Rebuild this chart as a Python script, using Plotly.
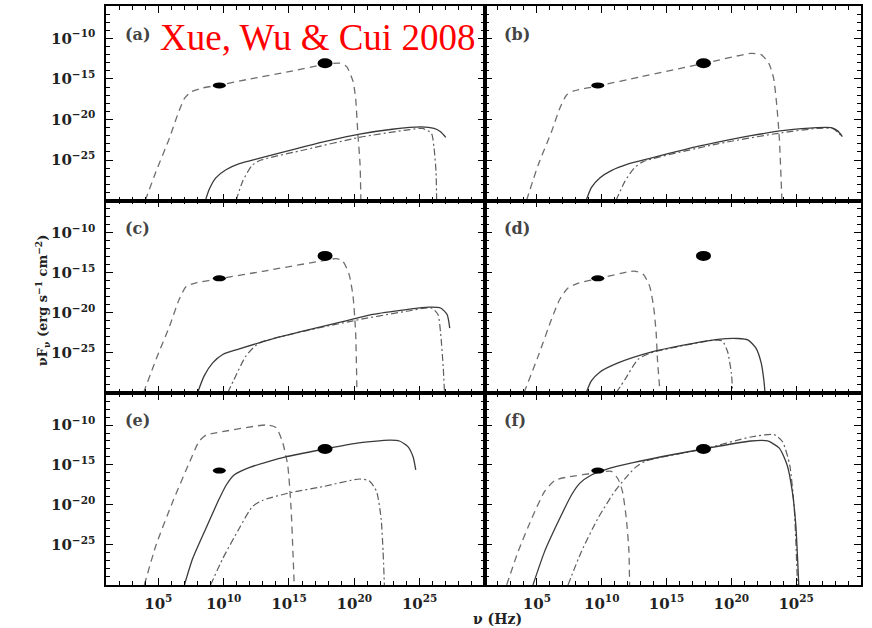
import plotly.graph_objects as go

# ---------------- data (log10 nu [Hz], log10 nuF_nu [erg s^-1 cm^-2]) ----------------
LOGNU_RANGE = [1, 30]
LOGF_RANGE = [-30, -6]
X_TICKS = [5, 10, 15, 20, 25]
X_TICK_LABELS = ["10<sup>5</sup>", "10<sup>10</sup>", "10<sup>15</sup>", "10<sup>20</sup>", "10<sup>25</sup>"]
Y_TICKS = [-10, -15, -20, -25]
Y_TICK_LABELS = ["10<sup>−10</sup>", "10<sup>−15</sup>", "10<sup>−20</sup>", "10<sup>−25</sup>"]
PANEL_LABELS = ["(a)", "(b)", "(c)", "(d)", "(e)", "(f)"]

# panel (a)
A_DASH_X = [4.0, 4.83, 5.85, 6.48, 7.0, 7.5, 8.4, 9.67, 12.0, 15.0, 17.76, 18.86, 19.4, 19.9, 20.1, 20.26, 20.44, 20.5]
A_DASH_Y = [-30, -26.4, -22.3, -19.4, -17.4, -16.6, -16.1, -15.75, -15.0, -14.1, -13.2, -13.05, -13.45, -15.3, -17.4, -21.5, -25.6, -30]
A_SOLID_X = [8.6, 8.9, 9.4, 10.18, 11.2, 12.7, 15.3, 17.8, 20.4, 22.9, 25.1, 26.1, 26.6, 27.0]
A_SOLID_Y = [-30, -28.6, -27.2, -26.2, -25.45, -24.8, -23.7, -22.7, -21.8, -21.2, -20.9, -21.1, -21.5, -22.2]
A_DD_X = [10.95, 11.46, 12.2, 12.86, 16.3, 20.4, 24.0, 25.2, 25.9, 26.1, 26.25, 26.3]
A_DD_Y = [-30, -27.6, -25.6, -25.0, -23.7, -22.2, -21.3, -21.1, -21.7, -23.5, -26.4, -30]
A_PTS_X = [9.67, 17.76]
A_PTS_Y = [-15.8, -13.07]

# panel (b)
B_DASH_X = [4.2, 5.1, 6.13, 6.77, 7.28, 7.8, 9.7, 13.0, 17.85, 21.5, 22.3, 22.9, 23.26, 23.5, 23.7, 23.9]
B_DASH_Y = [-30, -25.6, -21.5, -18.6, -17.0, -16.5, -15.86, -14.74, -13.09, -11.85, -12.0, -13.1, -14.9, -18.2, -22.3, -30]
B_SOLID_X = [8.8, 9.2, 9.85, 10.74, 12.0, 13.8, 16.4, 18.95, 21.5, 24.1, 26.6, 27.7, 28.2, 28.56]
B_SOLID_Y = [-30, -28.4, -27.2, -26.3, -25.5, -24.75, -23.7, -22.8, -22.0, -21.35, -21.0, -21.0, -21.4, -22.1]
B_DD_X = [11.1, 11.8, 12.5, 13.2, 18.95, 23.6, 26.6, 27.8, 28.3, 28.56]
B_DD_Y = [-30, -27.6, -26.0, -25.2, -23.0, -21.7, -21.1, -21.1, -21.7, -22.2]
B_PTS_X = [9.7, 17.85]
B_PTS_Y = [-15.8, -13.07]

# panel (c)
C_DASH_X = [3.86, 4.83, 5.85, 6.6, 7.12, 7.9, 9.67, 13.0, 17.76, 18.6, 19.1, 19.6, 19.9, 20.1, 20.2]
C_DASH_Y = [-30, -25.8, -21.7, -18.3, -16.75, -16.25, -15.75, -14.82, -13.45, -13.25, -13.5, -15.2, -17.9, -22.5, -30]
C_SOLID_X = [8.0, 8.5, 9.16, 9.93, 11.2, 13.75, 16.3, 18.86, 21.4, 24.0, 25.7, 26.6, 27.1, 27.3]
C_SOLID_Y = [-30, -27.9, -26.25, -25.2, -24.5, -23.25, -22.2, -21.2, -20.2, -19.6, -19.3, -19.4, -20.2, -21.9]
C_DD_X = [10.3, 10.8, 11.7, 12.7, 19.9, 24.0, 25.9, 26.4, 26.6, 26.8, 26.9]
C_DD_Y = [-30, -28.3, -25.4, -23.8, -21.0, -19.8, -19.4, -20.2, -22.5, -26.7, -30]
C_PTS_X = [9.67, 17.76]
C_PTS_Y = [-15.7, -12.9]

# panel (d)
D_DASH_X = [4.0, 5.1, 6.13, 6.77, 7.4, 8.2, 9.7, 12.5, 13.2, 13.7, 14.0, 14.2, 14.3, 14.5]
D_DASH_Y = [-30, -25.4, -20.8, -18.3, -16.9, -16.3, -15.75, -14.8, -15.2, -16.7, -19.2, -22.5, -25.8, -30]
D_SOLID_X = [8.8, 9.2, 9.85, 11.26, 13.8, 16.4, 18.95, 20.5, 21.3, 21.9, 22.3, 22.5, 22.6]
D_SOLID_Y = [-30, -28.5, -27.4, -26.25, -24.9, -24.0, -23.3, -23.2, -23.4, -24.4, -26.25, -28.3, -30]
D_DD_X = [11.1, 11.8, 12.8, 13.8, 18.7, 19.3, 19.7, 20.0, 20.1]
D_DD_Y = [-30, -28.3, -25.8, -25.0, -23.4, -23.5, -24.8, -27.5, -30]
D_PTS_X = [9.7, 17.85]
D_PTS_Y = [-15.7, -12.9]

# panel (e)
E_DASH_X = [3.93, 4.83, 6.1, 7.4, 8.1, 8.65, 9.2, 13.25, 14.0, 14.5, 14.9, 15.16, 15.3, 15.4]
E_DASH_Y = [-30, -25.0, -19.6, -14.6, -12.1, -11.25, -11.05, -10.0, -10.3, -12.1, -15.0, -20.4, -25.8, -30]
E_SOLID_X = [7.0, 7.63, 8.65, 9.67, 10.2, 10.8, 12.0, 14.8, 17.76, 20.1, 22.7, 23.45, 24.1, 24.5, 24.7]
E_SOLID_Y = [-30, -26.7, -22.9, -19.2, -17.5, -16.25, -15.3, -13.96, -13.0, -12.3, -11.9, -12.0, -12.7, -14.0, -15.6]
E_DD_X = [9.0, 9.93, 11.2, 12.2, 13.0, 15.0, 17.6, 20.4, 21.15, 21.7, 22.05, 22.2, 22.3]
E_DD_Y = [-30, -26.7, -22.9, -20.2, -19.4, -18.5, -17.7, -16.75, -17.0, -18.3, -21.7, -25.8, -30]
E_PTS_X = [9.67, 17.76]
E_PTS_Y = [-15.7, -13.0]

# panel (f)
F_DASH_X = [2.67, 3.56, 4.6, 5.6, 6.4, 7.4, 9.7, 10.74, 11.26, 11.6, 11.9, 12.1, 12.15]
F_DASH_Y = [-30, -25.8, -21.7, -18.3, -16.9, -16.5, -15.95, -15.8, -16.75, -18.3, -21.7, -25.8, -30]
F_SOLID_X = [4.7, 5.6, 6.64, 7.67, 8.3, 9.2, 10.23, 12.5, 17.85, 21.5, 22.8, 23.7, 24.3, 24.7, 24.97, 25.2]
F_SOLID_Y = [-30, -25.8, -22.1, -18.75, -17.3, -16.25, -15.6, -14.67, -13.0, -12.0, -12.0, -12.9, -15.0, -18.3, -22.5, -30]
F_DD_X = [7.4, 8.44, 9.7, 11.0, 11.8, 12.6, 13.4, 17.85, 21.5, 23.3, 23.95, 24.5, 24.85, 25.1]
F_DD_Y = [-30, -25.8, -21.7, -18.3, -16.7, -15.3, -14.5, -13.0, -11.5, -11.2, -12.1, -15.0, -20.4, -30]
F_PTS_X = [9.7, 17.85]
F_PTS_Y = [-15.7, -13.0]

PANELS = [
    (A_DASH_X, A_DASH_Y, A_SOLID_X, A_SOLID_Y, A_DD_X, A_DD_Y, A_PTS_X, A_PTS_Y),
    (B_DASH_X, B_DASH_Y, B_SOLID_X, B_SOLID_Y, B_DD_X, B_DD_Y, B_PTS_X, B_PTS_Y),
    (C_DASH_X, C_DASH_Y, C_SOLID_X, C_SOLID_Y, C_DD_X, C_DD_Y, C_PTS_X, C_PTS_Y),
    (D_DASH_X, D_DASH_Y, D_SOLID_X, D_SOLID_Y, D_DD_X, D_DD_Y, D_PTS_X, D_PTS_Y),
    (E_DASH_X, E_DASH_Y, E_SOLID_X, E_SOLID_Y, E_DD_X, E_DD_Y, E_PTS_X, E_PTS_Y),
    (F_DASH_X, F_DASH_Y, F_SOLID_X, F_SOLID_Y, F_DD_X, F_DD_Y, F_PTS_X, F_PTS_Y),
]

# ---------------- layout geometry / styles ----------------
X_DOMAINS = [[0.1216, 0.5562], [0.5562, 0.9874]]
Y_DOMAINS = [[0.6806, 0.9904], [0.3742, 0.6806], [0.0685, 0.3742]]
SERIF = "DejaVu Serif"
SMALL_PT_PX = (13, 6)
BIG_PT_PX = (15, 10)

fig = go.Figure()
shapes = []
annotations = []
layout = {}

for i, (dx, dy, sx, sy, ddx, ddy, px, py) in enumerate(PANELS):
    n = i + 1
    row, col = divmod(i, 2)
    xa = "x" if n == 1 else f"x{n}"
    ya = "y" if n == 1 else f"y{n}"
    common = dict(mode="lines", xaxis=xa, yaxis=ya, showlegend=False, hoverinfo="skip",
                  line_shape="spline")
    fig.add_trace(go.Scatter(x=dx, y=dy, line=dict(color="#6e6e6e", width=1.3, dash="7px,5px",
                                                   smoothing=0.6), **common))
    fig.add_trace(go.Scatter(x=ddx, y=ddy, line=dict(color="#5e5e5e", width=1.2, dash="7px,3px,2px,3px",
                                                     smoothing=0.6), **common))
    fig.add_trace(go.Scatter(x=sx, y=sy, line=dict(color="#3a3a3a", width=1.3, smoothing=0.6), **common))
    for k, (ex, ey) in enumerate(zip(px, py)):
        w, h = SMALL_PT_PX if k == 0 else BIG_PT_PX
        shapes.append(dict(type="circle", xref=xa, yref=ya, xsizemode="pixel", ysizemode="pixel",
                           xanchor=ex, yanchor=ey, x0=-w / 2, x1=w / 2, y0=-h / 2, y1=h / 2,
                           fillcolor="black", line=dict(width=0)))
    annotations.append(dict(text=f"<b>{PANEL_LABELS[i]}</b>", xref=f"{xa} domain", yref=f"{ya} domain",
                            x=0.045, y=0.855, xanchor="left", yanchor="middle", showarrow=False,
                            font=dict(family=SERIF, size=16, color="#444444")))
    xkey = "xaxis" if n == 1 else f"xaxis{n}"
    ykey = "yaxis" if n == 1 else f"yaxis{n}"
    layout[xkey] = dict(
        domain=X_DOMAINS[col], anchor=ya, range=LOGNU_RANGE, showgrid=False, zeroline=False,
        showline=True, linecolor="black", linewidth=1.5, mirror="allticks",
        ticks="inside", ticklen=7, tickwidth=1.3, tickcolor="black",
        tickmode="array", tickvals=X_TICKS,
        ticktext=[f"<b>{t}</b>" for t in X_TICK_LABELS], showticklabels=(row == 2),
        tickfont=dict(family=SERIF, size=15, color="#222222"), ticklabelstandoff=4,
        minor=dict(tickmode="array", tickvals=list(range(2, 30)), ticks="inside", ticklen=4,
                   tickwidth=1.2, tickcolor="black", showgrid=False),
    )
    layout[ykey] = dict(
        domain=Y_DOMAINS[row], anchor=xa, range=LOGF_RANGE, showgrid=False, zeroline=False,
        showline=True, linecolor="black", linewidth=1.5, mirror="allticks",
        ticks="inside", ticklen=7, tickwidth=1.3, tickcolor="black",
        tickmode="array", tickvals=Y_TICKS,
        ticktext=[f"<b>{t}</b>" for t in Y_TICK_LABELS], showticklabels=(col == 0),
        tickfont=dict(family=SERIF, size=15, color="#222222"), ticklabelstandoff=6,
        minor=dict(tickmode="array", tickvals=list(range(-29, -6)), ticks="inside", ticklen=4,
                   tickwidth=1.2, tickcolor="black", showgrid=False),
    )

annotations.append(dict(text="<b>νF<sub>ν</sub> (erg s<sup>−1</sup> cm<sup>−2</sup>)</b>",
                        xref="paper", yref="paper", x=0.035, y=0.522, textangle=-90,
                        showarrow=False, font=dict(family=SERIF, size=13, color="#222222")))
annotations.append(dict(text="<b>ν (Hz)</b>", xref="paper", yref="paper", x=0.571, y=0.014,
                        xanchor="center", yanchor="middle",
                        showarrow=False, font=dict(family=SERIF, size=14, color="#222222")))
annotations.append(dict(text="Xue, Wu &amp; Cui 2008", xref="paper", yref="paper", x=0.181, y=0.9395,
                        xanchor="left", yanchor="middle", showarrow=False,
                        font=dict(family="Liberation Serif", size=37, color="#ff0000")))

fig.update_layout(width=872, height=628, margin=dict(l=0, r=0, t=0, b=0),
                  paper_bgcolor="white", plot_bgcolor="white",
                  shapes=shapes, annotations=annotations, **layout)

fig.write_html("out.html")
